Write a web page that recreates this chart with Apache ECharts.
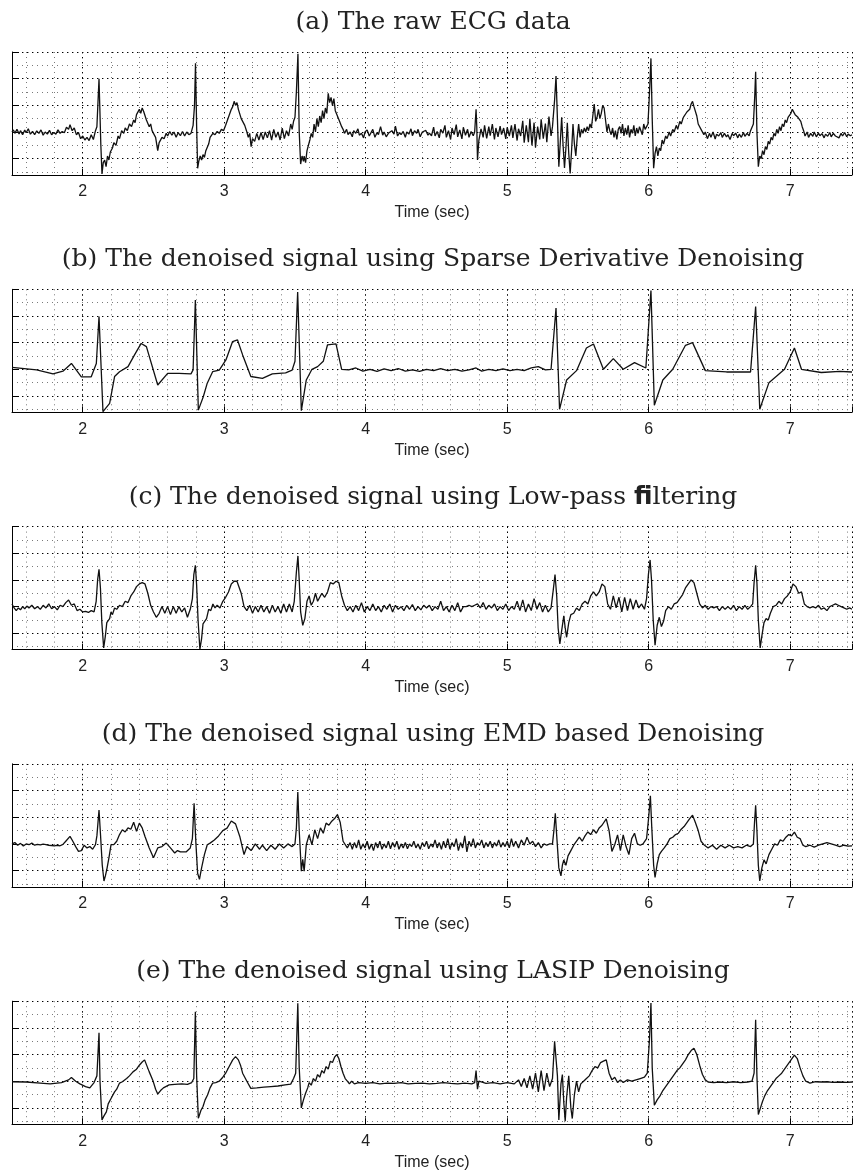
<!DOCTYPE html>
<html>
<head>
<meta charset="utf-8">
<script src="https://cdn.jsdelivr.net/npm/echarts@6/dist/echarts.min.js"></script>
<style>
  html, body { margin: 0; padding: 0; background: #fff; }
  #chart { width: 855px; height: 1174px; }
</style>
</head>
<body>
<div id="chart"></div>
<script>
// Time-axis labels shown under every panel
const timeTicks = [2, 3, 4, 5, 6, 7];

// Panel titles
const panelTitles = [
  '(a) The raw ECG data',
  '(b) The denoised signal using Sparse Derivative Denoising',
  '{s|(c) The denoised signal using Low-pass }{f|\uFB01}{s|ltering}',
  '(d) The denoised signal using EMD based Denoising',
  '(e) The denoised signal using LASIP Denoising'
];

// (a) raw ECG, [time (s), amplitude]
const ecgRaw = [
[1.50,1.00],[1.51,1.08],[1.52,0.95],[1.535,1.10],[1.55,0.93],[1.56,1.05],[1.575,0.90],[1.59,1.07],[1.60,0.97],[1.615,1.12],[1.63,0.92],[1.645,1.02],[1.66,0.90],[1.675,1.04],[1.69,0.95],[1.705,1.08],[1.72,0.88],[1.735,1.00],[1.75,0.92],[1.765,1.06],[1.78,0.90],[1.795,0.98],[1.81,0.92],[1.825,1.08],[1.84,0.95],[1.855,1.02],[1.87,0.97],[1.885,1.18],[1.90,1.10],[1.91,1.27],[1.925,1.05],[1.94,1.15],[1.955,0.90],[1.97,0.98],[1.985,0.75],[2.00,0.85],[2.015,0.70],[2.03,0.80],[2.045,0.68],[2.06,0.90],[2.075,0.72],[2.09,1.05],[2.10,1.20],[2.115,3.00],[2.128,0.50],[2.136,-0.57],
[2.145,-0.15],[2.155,-0.05],[2.165,-0.30],[2.175,0.10],[2.185,-0.05],[2.195,0.25],[2.21,0.40],[2.22,0.60],[2.235,0.50],[2.25,0.85],[2.26,0.75],[2.275,1.05],[2.29,0.95],[2.30,1.15],[2.315,1.05],[2.33,1.30],[2.345,1.20],[2.36,1.45],[2.37,1.35],[2.38,1.65],[2.39,1.60],[2.40,1.85],[2.41,1.70],[2.42,1.90],[2.43,1.78],[2.44,1.75],[2.45,1.45],[2.46,1.50],[2.47,1.20],[2.48,1.30],[2.49,1.05],[2.50,0.95],[2.515,0.80],[2.53,0.30],[2.54,0.60],[2.55,0.55],[2.56,0.80],[2.575,0.75],[2.59,0.95],[2.60,0.85],[2.615,1.02],[2.63,0.88],[2.645,1.00],[2.66,0.80],[2.675,0.98],[2.69,0.86],[2.705,1.02],[2.72,0.85],[2.735,1.00],[2.75,0.90],[2.765,0.95],[2.78,1.25],[2.79,2.00],[2.797,3.58],[2.805,1.20],[2.812,-0.36],
[2.82,-0.10],[2.83,0.10],[2.84,-0.05],[2.85,0.15],[2.86,0.05],[2.87,0.30],[2.88,0.25],[2.89,0.55],[2.90,0.80],[2.91,0.75],[2.92,0.95],[2.935,0.90],[2.95,1.02],[2.965,0.95],[2.98,1.10],[2.995,1.05],[3.01,1.25],[3.02,1.40],[3.03,1.55],[3.04,1.50],[3.05,1.85],[3.06,1.95],[3.07,2.15],[3.08,2.00],[3.09,2.10],[3.10,1.85],[3.11,1.80],[3.12,1.50],[3.13,1.55],[3.145,1.25],[3.16,1.00],[3.17,0.80],[3.18,0.95],[3.19,0.45],[3.20,0.75],[3.215,0.65],[3.23,0.95],[3.245,0.70],[3.26,0.98],[3.275,0.72],[3.29,1.00],[3.305,0.78],[3.32,1.05],[3.335,0.70],[3.35,1.10],[3.365,0.80],[3.38,1.00],[3.395,0.70],[3.41,1.15],[3.425,0.75],[3.44,1.05],[3.455,0.85],[3.47,1.30],[3.48,1.10],[3.49,1.40],[3.50,1.55],[3.51,2.50],[3.521,3.93],[3.53,1.00],[3.54,-0.20],
[3.55,0.10],[3.56,-0.10],[3.565,0.10],[3.575,-0.15],[3.585,0.30],[3.595,0.25],[3.605,0.70],[3.615,0.95],[3.625,0.80],[3.635,1.30],[3.645,1.00],[3.655,1.50],[3.665,1.20],[3.675,1.60],[3.685,1.35],[3.695,1.80],[3.705,1.50],[3.715,1.90],[3.725,1.70],[3.735,2.45],[3.745,2.10],[3.755,2.30],[3.765,2.00],[3.775,2.25],[3.785,1.80],[3.80,1.60],[3.815,1.40],[3.83,1.20],[3.84,1.10],
[3.85,0.95],[3.865,1.10],[3.875,0.90],[3.89,1.00],[3.905,0.82],[3.915,1.05],[3.93,0.95],[3.945,1.12],[3.955,0.88],[3.97,0.95],[3.985,0.78],[3.995,1.00],[4.01,1.08],[4.025,0.85],[4.035,0.92],[4.05,1.10],[4.065,0.80],[4.08,0.98],[4.09,0.90],[4.105,1.20],[4.12,0.88],[4.13,1.00],[4.145,0.82],[4.16,0.95],[4.17,0.88],[4.185,1.05],[4.20,0.92],[4.21,1.22],[4.225,0.85],[4.24,0.98],[4.25,0.90],[4.265,1.02],[4.28,0.80],[4.29,1.00],[4.305,0.92],[4.32,1.12],[4.33,0.86],[4.345,1.05],[4.36,0.95],[4.37,1.10],[4.385,0.82],[4.40,1.00],[4.41,0.93],[4.425,1.06],[4.44,0.88],[4.45,0.96],[4.465,0.86],[4.48,1.18],[4.49,0.85],[4.505,1.02],[4.52,0.78],[4.53,1.10],[4.545,0.96],[4.56,1.25],[4.57,0.80],[4.585,1.05],[4.60,0.72],[4.61,1.15],[4.625,0.90],[4.64,1.28],[4.65,0.82],[4.665,1.08],[4.68,0.74],[4.69,1.18],[4.705,0.88],[4.72,1.10],[4.73,0.80],[4.745,1.02],[4.76,0.86],[4.77,1.00],[4.78,1.85],[4.785,1.20],[4.79,-0.05],[4.80,0.70],[4.815,1.12],[4.83,0.80],[4.84,1.25],[4.855,0.76],[4.87,1.20],[4.88,0.86],[4.895,1.30],[4.91,0.72],[4.92,1.15],[4.935,0.82],[4.95,1.22],[4.96,0.90],[4.975,1.15],[4.99,0.74],[5.00,1.18],[5.015,0.85],[5.03,1.25],[5.04,0.78],[5.055,1.30],[5.07,0.68],[5.08,1.12],[5.095,0.85],[5.11,1.42],[5.12,0.60],[5.135,1.25],[5.15,0.62],[5.16,1.50],[5.175,0.50],[5.19,1.35],[5.20,0.42],[5.215,1.20],[5.23,0.72],[5.24,1.48],[5.255,0.75],[5.27,1.32],[5.28,0.62],[5.295,1.58],[5.31,0.85],[5.32,1.20],[5.335,2.20],[5.345,3.10],[5.355,1.50],[5.365,-0.30],[5.375,0.60],[5.385,1.55],[5.395,0.50],[5.405,-0.35],[5.415,0.40],[5.425,1.35],[5.435,0.20],[5.445,-0.55],[5.455,0.30],[5.465,1.30],[5.475,0.55],[5.485,0.10],[5.495,0.80],[5.505,1.30],[5.515,0.80],[5.525,1.10],[5.535,0.95],[5.545,1.15],[5.555,1.00],[5.565,1.20],[5.575,1.05],[5.585,1.30],[5.595,1.15],[5.605,1.60],[5.615,2.05],[5.625,1.40],[5.635,1.55],[5.645,1.85],[5.655,1.50],[5.665,1.70],[5.675,2.00],[5.685,1.90],[5.695,1.95],[5.705,1.00],[5.715,1.30],[5.725,1.05],[5.735,0.90],[5.745,1.15],[5.755,0.80],[5.765,1.05],[5.775,0.72],[5.785,1.10],[5.795,1.20],[5.805,0.95],[5.815,1.30],[5.825,0.85],[5.835,1.15],[5.845,0.90],[5.855,1.25],[5.865,0.80],[5.875,1.10],[5.885,0.95],[5.895,1.25],[5.905,0.85],[5.915,1.15],[5.925,0.95],[5.935,1.20],[5.945,1.05],[5.955,0.90],[5.965,1.30],[5.975,1.10],[5.985,1.20],[5.995,1.30],[6.005,2.40],[6.016,3.76],[6.025,1.50],[6.035,-0.36],
[6.045,0.20],[6.055,0.45],[6.065,0.10],[6.075,0.40],[6.085,0.30],[6.095,0.70],[6.105,0.55],[6.12,0.85],[6.13,0.75],[6.145,1.00],[6.155,0.85],[6.17,1.10],[6.18,1.00],[6.195,1.25],[6.205,1.10],[6.22,1.40],[6.23,1.30],[6.245,1.55],[6.255,1.50],[6.27,1.75],[6.28,1.70],[6.29,1.85],[6.30,2.05],[6.31,2.15],[6.32,1.95],[6.33,1.90],[6.34,1.60],[6.35,1.30],[6.36,1.35],[6.37,1.10],[6.38,1.15],[6.39,0.90],[6.40,1.00],[6.415,0.75],[6.43,0.95],[6.44,0.80],[6.455,1.00],[6.47,0.74],[6.48,0.92],[6.495,0.85],[6.51,0.98],[6.52,0.80],[6.535,0.95],[6.55,0.82],[6.56,0.90],[6.575,0.72],[6.59,0.95],[6.60,0.86],[6.615,0.96],[6.63,0.78],[6.64,0.92],[6.655,0.80],[6.67,0.98],[6.68,0.84],[6.695,0.95],[6.71,0.86],[6.72,1.05],[6.73,1.00],[6.74,1.30],[6.75,2.40],[6.756,3.26],[6.765,1.00],[6.775,-0.30],
[6.785,0.10],[6.795,0.00],[6.805,0.30],[6.815,0.15],[6.825,0.45],[6.835,0.35],[6.845,0.65],[6.855,0.55],[6.865,0.80],[6.875,0.70],[6.885,0.95],[6.895,0.85],[6.905,1.10],[6.915,0.95],[6.925,1.20],[6.935,1.05],[6.945,1.30],[6.955,1.20],[6.965,1.45],[6.975,1.35],[6.985,1.55],[6.995,1.50],[7.005,1.70],[7.015,1.85],[7.025,1.80],[7.035,1.65],[7.045,1.70],[7.055,1.55],[7.065,1.60],[7.075,1.40],[7.085,1.20],[7.095,1.05],[7.105,0.85],[7.12,1.00],[7.13,0.80],[7.145,0.95],[7.16,0.84],[7.17,1.00],[7.185,0.82],[7.20,0.96],[7.21,0.86],[7.225,0.94],[7.24,0.78],[7.25,0.92],[7.265,0.84],[7.28,0.98],[7.29,0.82],[7.305,0.95],[7.32,0.85],[7.33,0.92],[7.345,0.78],[7.36,0.95],[7.37,0.85],[7.385,0.98],[7.40,0.82],[7.41,0.92],[7.425,0.86],[7.437,0.90]
];

// (b) sparse-derivative denoised
const ecgSparse = [
[1.50,1.07],[1.674,0.98],[1.79,0.83],[1.86,0.93],[1.92,1.22],[1.99,0.72],[2.06,0.72],[2.096,1.22],[2.115,2.98],[2.143,-0.59],[2.19,-0.28],[2.225,0.73],[2.26,0.91],[2.32,1.10],[2.366,1.54],[2.413,1.97],[2.45,1.85],[2.53,0.41],[2.60,0.85],[2.68,0.85],[2.765,0.83],[2.78,0.98],[2.796,3.60],[2.817,-0.53],[2.852,-0.03],[2.88,0.48],[2.918,0.91],[2.965,0.97],[3.012,1.35],[3.059,2.04],[3.094,2.10],[3.13,1.54],[3.188,0.73],[3.27,0.66],[3.34,0.83],[3.434,0.87],[3.48,0.97],[3.50,1.30],[3.519,3.90],[3.545,-0.55],[3.58,0.60],[3.62,1.00],[3.66,1.10],[3.70,1.30],[3.73,1.92],[3.79,1.95],[3.83,1.00],[3.88,0.98],[3.93,1.05],[3.98,0.93],[4.03,1.00],[4.08,0.92],[4.13,1.02],[4.18,0.95],[4.23,1.03],[4.28,0.93],[4.33,0.98],[4.38,0.92],[4.43,1.00],[4.48,0.95],[4.53,1.03],[4.58,0.95],[4.63,1.00],[4.68,0.93],[4.73,0.98],[4.78,1.05],[4.82,0.93],[4.87,1.00],[4.92,0.95],[4.97,1.02],[5.02,0.95],[5.07,1.00],[5.12,0.95],[5.17,1.05],[5.22,1.10],[5.27,0.98],[5.31,1.00],[5.345,3.30],[5.37,-0.50],[5.42,0.60],[5.49,0.95],[5.56,1.80],[5.61,1.95],[5.68,1.00],[5.75,1.40],[5.82,1.00],[5.90,1.25],[5.98,1.05],[6.016,3.95],[6.04,-0.35],[6.10,0.60],[6.17,1.00],[6.26,1.90],[6.31,2.00],[6.40,0.95],[6.55,0.90],[6.72,0.90],[6.756,3.35],[6.785,-0.50],[6.85,0.50],[6.96,1.00],[7.03,1.80],[7.08,1.00],[7.22,0.88],[7.35,0.92],[7.437,0.90]
];

// (c) low-pass filtered
const ecgLowpass = [
[1.50,1.10],[1.515,0.95],[1.53,0.85],[1.545,0.95],[1.56,0.88],[1.575,1.00],[1.59,0.92],[1.605,1.02],[1.62,0.95],[1.64,1.05],[1.66,0.92],[1.68,1.00],[1.70,0.90],[1.72,1.05],[1.74,0.95],[1.76,1.10],[1.78,0.92],[1.80,1.00],[1.82,0.88],[1.84,1.05],[1.86,1.00],[1.88,1.15],[1.90,1.25],[1.92,1.05],[1.94,1.10],[1.96,0.85],[1.98,0.90],[2.00,0.80],[2.02,0.82],[2.04,0.78],[2.06,0.85],[2.08,0.80],[2.095,1.20],[2.105,2.00],[2.115,2.40],[2.125,1.70],[2.135,0.40],[2.148,-0.55],[2.16,-0.10],[2.17,0.40],[2.18,0.35],[2.19,0.55],[2.20,0.80],[2.21,0.70],[2.225,0.95],[2.24,0.90],[2.26,1.05],[2.28,1.00],[2.30,1.20],[2.32,1.15],[2.34,1.40],[2.36,1.55],[2.38,1.75],[2.40,1.85],[2.42,1.90],[2.44,1.85],[2.46,1.50],[2.48,1.05],[2.50,0.80],[2.52,0.60],[2.54,0.75],[2.56,1.00],[2.58,0.75],[2.60,1.00],[2.62,0.70],[2.64,1.00],[2.66,0.75],[2.68,1.00],[2.70,0.80],[2.72,0.95],[2.74,0.60],[2.76,0.90],[2.775,1.30],[2.785,2.20],[2.796,2.55],[2.805,1.80],[2.815,0.50],[2.828,-0.60],[2.84,-0.20],[2.85,0.35],[2.86,0.30],[2.875,0.55],[2.89,0.90],[2.905,0.85],[2.92,1.10],[2.935,0.95],[2.95,1.05],[2.97,0.95],[2.99,1.20],[3.01,1.35],[3.03,1.55],[3.05,1.85],[3.07,1.95],[3.09,1.95],[3.10,2.00],[3.12,1.50],[3.14,1.00],[3.16,0.85],[3.18,1.05],[3.20,0.75],[3.22,1.00],[3.24,0.80],[3.26,1.05],[3.28,0.80],[3.30,1.00],[3.32,0.75],[3.34,1.05],[3.36,0.80],[3.38,1.00],[3.40,0.75],[3.42,1.10],[3.44,0.80],[3.46,1.10],[3.48,0.80],[3.495,1.20],[3.51,2.30],[3.521,2.90],[3.53,2.00],[3.54,0.80],[3.555,0.30],[3.57,0.55],[3.585,1.20],[3.60,1.40],[3.615,1.05],[3.63,1.20],[3.645,1.50],[3.66,1.20],[3.675,1.35],[3.69,1.50],[3.71,1.35],[3.73,1.55],[3.75,1.90],[3.77,1.85],[3.79,1.95],[3.81,1.90],[3.83,1.40],[3.85,1.05],[3.87,0.85],[3.89,1.00],[3.91,0.80],[3.93,1.05],[3.95,0.85],[3.97,1.15],[3.99,0.80],[4.01,1.00],[4.03,0.85],[4.05,1.10],[4.07,0.85],[4.09,1.00],[4.11,0.80],[4.13,1.05],[4.15,0.90],[4.17,1.10],[4.19,0.80],[4.21,1.05],[4.23,0.90],[4.25,1.00],[4.27,0.85],[4.29,1.05],[4.31,0.90],[4.33,1.08],[4.35,0.85],[4.37,1.00],[4.39,0.88],[4.41,1.05],[4.43,0.95],[4.45,1.05],[4.47,0.85],[4.49,1.00],[4.51,0.90],[4.53,1.20],[4.55,0.85],[4.57,1.00],[4.59,0.80],[4.61,1.05],[4.63,0.85],[4.65,1.15],[4.67,0.80],[4.69,1.00],[4.71,1.00],[4.73,1.05],[4.75,1.00],[4.77,1.05],[4.79,1.10],[4.81,0.95],[4.83,1.15],[4.85,0.90],[4.87,1.05],[4.89,0.95],[4.91,1.10],[4.93,0.85],[4.95,1.00],[4.97,0.90],[4.99,1.10],[5.01,0.85],[5.03,1.00],[5.05,0.90],[5.07,1.20],[5.09,0.85],[5.11,1.25],[5.13,0.80],[5.15,1.10],[5.17,0.85],[5.19,1.30],[5.21,0.90],[5.23,1.15],[5.25,0.80],[5.27,1.05],[5.29,0.80],[5.31,0.95],[5.325,1.60],[5.338,2.20],[5.35,1.40],[5.36,0.20],[5.372,-0.40],[5.385,0.10],[5.40,0.65],[5.41,0.20],[5.42,-0.15],[5.435,0.40],[5.45,0.70],[5.47,0.75],[5.49,0.95],[5.51,0.85],[5.53,1.10],[5.55,1.20],[5.57,1.10],[5.59,1.40],[5.61,1.55],[5.63,1.40],[5.65,1.55],[5.67,1.85],[5.69,1.75],[5.71,1.10],[5.73,0.90],[5.75,1.40],[5.77,0.95],[5.79,1.35],[5.81,0.80],[5.83,1.35],[5.85,0.85],[5.87,1.30],[5.89,0.90],[5.91,1.25],[5.93,0.95],[5.95,1.10],[5.97,0.90],[5.985,1.30],[5.998,2.20],[6.01,2.75],[6.02,2.00],[6.032,0.50],[6.045,-0.45],[6.06,0.30],[6.075,0.60],[6.09,0.25],[6.105,0.45],[6.12,0.85],[6.14,1.00],[6.16,0.90],[6.18,1.10],[6.20,1.15],[6.22,1.30],[6.24,1.45],[6.26,1.70],[6.28,1.85],[6.30,2.00],[6.32,1.90],[6.34,1.50],[6.36,1.10],[6.38,0.95],[6.40,1.05],[6.42,0.90],[6.44,1.00],[6.46,0.95],[6.48,1.00],[6.50,0.85],[6.52,1.00],[6.54,0.90],[6.56,1.00],[6.58,0.90],[6.60,1.05],[6.62,0.85],[6.64,1.00],[6.66,0.90],[6.68,1.05],[6.70,0.90],[6.72,1.00],[6.735,1.10],[6.745,1.90],[6.756,2.55],[6.765,1.90],[6.775,0.50],[6.788,-0.55],[6.80,-0.10],[6.815,0.40],[6.83,0.55],[6.845,0.50],[6.86,0.75],[6.88,1.00],[6.90,1.05],[6.92,1.20],[6.94,1.10],[6.96,1.30],[6.98,1.40],[7.00,1.55],[7.02,1.85],[7.04,1.75],[7.06,1.50],[7.08,1.55],[7.10,1.10],[7.12,1.00],[7.14,0.95],[7.16,1.00],[7.18,0.95],[7.20,1.05],[7.22,0.90],[7.24,0.95],[7.26,0.85],[7.28,1.00],[7.30,1.05],[7.32,1.10],[7.34,1.05],[7.36,1.00],[7.38,0.95],[7.40,0.90],[7.42,0.95],[7.437,0.90]
];

// (d) EMD based denoising
const ecgEmd = [
[1.50,1.00],[1.52,1.05],[1.54,0.95],[1.56,1.02],[1.58,0.92],[1.60,1.00],[1.62,0.97],[1.64,1.03],[1.66,0.95],[1.68,0.98],[1.70,0.96],[1.72,0.99],[1.74,0.97],[1.76,0.95],[1.78,0.94],[1.80,0.93],[1.82,0.95],[1.84,0.93],[1.86,0.98],[1.88,1.10],[1.91,1.28],[1.93,1.10],[1.95,0.90],[1.97,0.72],[1.99,0.75],[2.01,0.95],[2.03,0.85],[2.05,0.90],[2.07,0.80],[2.09,0.97],[2.10,1.30],[2.115,2.27],[2.125,1.40],[2.138,0.20],[2.15,-0.39],[2.16,-0.20],[2.17,0.04],[2.185,0.48],[2.20,0.97],[2.22,0.97],[2.24,1.10],[2.26,1.35],[2.28,1.53],[2.30,1.45],[2.32,1.60],[2.34,1.55],[2.36,1.81],[2.38,1.47],[2.40,1.78],[2.42,1.60],[2.44,1.28],[2.47,0.85],[2.50,0.48],[2.53,0.85],[2.56,0.90],[2.59,1.03],[2.62,0.85],[2.65,0.66],[2.67,0.75],[2.69,0.70],[2.73,0.70],[2.76,0.85],[2.775,1.20],[2.787,2.52],[2.80,1.00],[2.812,-0.10],[2.825,-0.33],[2.84,0.10],[2.86,0.60],[2.88,0.97],[2.90,1.03],[2.93,1.15],[2.96,1.30],[2.99,1.50],[3.02,1.59],[3.05,1.86],[3.08,1.75],[3.11,1.28],[3.14,0.60],[3.16,0.90],[3.19,0.75],[3.22,1.00],[3.25,0.80],[3.27,0.95],[3.30,0.75],[3.33,0.95],[3.36,0.80],[3.39,1.00],[3.42,0.85],[3.45,1.00],[3.48,0.90],[3.50,1.00],[3.51,1.60],[3.52,2.95],[3.53,1.50],[3.545,-0.02],[3.555,0.42],[3.565,-0.02],[3.58,0.97],[3.60,1.34],[3.62,0.97],[3.64,1.53],[3.66,1.20],[3.68,1.60],[3.70,1.40],[3.72,1.78],[3.74,1.70],[3.76,1.85],[3.78,1.95],[3.80,2.10],[3.82,1.80],[3.84,1.10],[3.87,0.85],[3.89,1.05],[3.905,0.80],[3.92,1.05],[3.935,0.85],[3.95,1.15],[3.965,0.80],[3.98,1.00],[3.995,0.85],[4.01,1.10],[4.025,0.80],[4.04,1.00],[4.055,0.75],[4.07,1.05],[4.085,0.85],[4.10,1.10],[4.115,0.80],[4.13,1.00],[4.145,0.85],[4.16,1.10],[4.175,0.82],[4.19,1.05],[4.205,0.88],[4.22,1.10],[4.235,0.80],[4.25,1.00],[4.265,0.85],[4.28,1.05],[4.295,0.82],[4.31,1.00],[4.325,0.90],[4.34,1.10],[4.355,0.85],[4.37,1.00],[4.385,0.80],[4.40,1.05],[4.415,0.90],[4.43,1.10],[4.445,0.82],[4.46,1.00],[4.475,0.88],[4.49,1.15],[4.505,0.85],[4.52,1.05],[4.535,0.80],[4.55,1.10],[4.565,0.85],[4.58,1.20],[4.595,0.80],[4.61,1.05],[4.625,0.90],[4.64,1.20],[4.655,0.75],[4.67,1.05],[4.685,0.85],[4.70,1.30],[4.715,0.70],[4.73,1.10],[4.745,0.90],[4.76,1.20],[4.775,0.85],[4.79,1.05],[4.805,0.95],[4.82,1.15],[4.835,0.85],[4.85,1.05],[4.865,0.90],[4.88,1.10],[4.895,0.85],[4.91,1.05],[4.925,0.92],[4.94,1.15],[4.955,0.88],[4.97,1.05],[4.985,0.90],[5.00,1.10],[5.015,0.85],[5.03,1.20],[5.045,0.90],[5.06,1.10],[5.08,0.85],[5.10,1.15],[5.12,0.95],[5.14,1.25],[5.16,1.00],[5.18,1.10],[5.20,0.90],[5.22,1.05],[5.24,0.85],[5.26,1.00],[5.28,0.95],[5.30,1.00],[5.32,1.00],[5.33,1.50],[5.34,2.15],[5.35,1.30],[5.365,0.10],[5.38,-0.20],[5.39,0.20],[5.40,0.40],[5.415,0.20],[5.43,0.55],[5.45,0.75],[5.47,0.95],[5.49,1.10],[5.51,1.25],[5.53,1.10],[5.55,1.30],[5.57,1.45],[5.59,1.35],[5.61,1.53],[5.63,1.40],[5.65,1.60],[5.67,1.70],[5.70,1.94],[5.72,1.50],[5.74,0.72],[5.76,0.97],[5.78,1.34],[5.80,0.75],[5.82,1.34],[5.84,0.90],[5.86,0.60],[5.88,1.20],[5.90,1.40],[5.92,1.00],[5.94,0.95],[5.96,1.00],[5.985,1.20],[6.00,2.00],[6.012,2.80],[6.022,1.60],[6.035,0.20],[6.045,-0.26],[6.06,0.25],[6.075,0.60],[6.09,0.72],[6.11,0.85],[6.13,1.00],[6.15,1.20],[6.17,1.25],[6.19,1.35],[6.21,1.40],[6.23,1.55],[6.25,1.65],[6.27,1.80],[6.29,1.95],[6.31,2.08],[6.33,1.80],[6.35,1.50],[6.37,1.10],[6.39,0.97],[6.42,0.85],[6.45,0.95],[6.48,0.80],[6.51,0.95],[6.54,0.85],[6.57,0.95],[6.60,0.85],[6.63,0.90],[6.66,0.85],[6.69,0.95],[6.72,0.90],[6.74,1.00],[6.748,1.80],[6.756,2.45],[6.765,1.50],[6.775,0.20],[6.785,-0.39],[6.80,0.10],[6.815,0.40],[6.83,0.25],[6.85,0.60],[6.87,0.80],[6.89,1.00],[6.91,0.95],[6.93,1.15],[6.95,1.10],[6.97,1.25],[6.99,1.35],[7.01,1.30],[7.03,1.44],[7.05,1.25],[7.07,1.20],[7.09,0.95],[7.11,0.90],[7.14,0.95],[7.17,0.88],[7.20,0.95],[7.23,1.00],[7.26,1.05],[7.29,1.00],[7.32,0.95],[7.35,0.90],[7.38,0.95],[7.41,0.92],[7.437,0.93]
];

// (e) LASIP denoising
const ecgLasip = [
[1.50,0.98],[1.60,0.97],[1.70,0.93],[1.77,0.90],[1.85,0.95],[1.90,1.05],[1.92,1.14],[1.95,1.00],[1.98,0.90],[2.02,0.80],[2.05,0.75],[2.08,0.95],[2.10,1.20],[2.115,2.82],[2.122,1.00],[2.136,-0.45],[2.15,-0.30],[2.167,-0.15],[2.18,0.15],[2.20,0.35],[2.225,0.60],[2.24,0.70],[2.26,0.93],[2.28,0.98],[2.31,1.10],[2.33,1.20],[2.355,1.35],[2.38,1.45],[2.40,1.60],[2.42,1.72],[2.437,1.80],[2.45,1.75],[2.47,1.35],[2.495,1.04],[2.515,0.70],[2.53,0.52],[2.55,0.65],[2.57,0.75],[2.61,0.86],[2.65,0.88],[2.70,0.90],[2.74,0.88],[2.77,0.95],[2.785,1.10],[2.796,3.60],[2.805,1.20],[2.817,-0.39],[2.835,-0.10],[2.85,0.05],[2.865,0.30],[2.882,0.48],[2.90,0.75],[2.918,0.93],[2.94,0.95],[2.965,1.00],[2.99,1.15],[3.01,1.30],[3.035,1.55],[3.06,1.80],[3.08,1.92],[3.10,1.80],[3.115,1.60],[3.13,1.30],[3.16,1.00],[3.188,0.73],[3.23,0.75],[3.28,0.78],[3.33,0.80],[3.38,0.82],[3.43,0.86],[3.47,0.89],[3.49,1.10],[3.505,1.30],[3.52,3.92],[3.53,1.50],[3.545,0.00],
[3.56,0.30],[3.575,0.55],[3.59,0.75],[3.60,0.95],[3.615,0.85],[3.63,1.10],[3.645,1.00],[3.66,1.25],[3.675,1.15],[3.69,1.40],[3.705,1.30],[3.72,1.55],[3.735,1.45],[3.75,1.75],[3.765,1.70],[3.78,1.90],[3.795,2.00],[3.81,1.85],[3.825,1.55],[3.84,1.30],[3.855,1.10],[3.87,1.00],[3.885,0.90],[3.90,1.00],[3.92,0.90],[3.95,0.95],[4.00,0.92],[4.05,0.95],[4.10,0.90],[4.15,0.93],[4.20,0.92],[4.25,0.95],[4.30,0.90],[4.35,0.92],[4.40,0.93],[4.45,0.90],[4.50,0.92],[4.55,0.95],[4.60,0.92],[4.65,0.90],[4.70,0.93],[4.75,0.90],[4.77,0.95],[4.78,1.40],[4.79,0.70],[4.80,1.00],[4.85,0.92],[4.90,0.95],[4.95,0.90],[5.00,0.95],[5.05,0.90],[5.08,1.05],[5.10,0.80],[5.12,1.10],[5.14,0.75],[5.16,1.20],[5.18,0.70],[5.20,1.30],[5.22,0.60],[5.24,1.40],[5.26,0.65],[5.28,1.30],[5.30,0.80],[5.32,1.10],[5.335,2.50],[5.345,2.55],[5.355,1.20],[5.365,-0.45],[5.38,0.90],[5.39,1.25],[5.40,0.20],[5.41,-0.50],[5.42,0.40],[5.435,1.20],[5.45,0.00],[5.46,-0.40],[5.475,0.50],[5.49,1.00],[5.505,0.60],[5.52,0.90],[5.54,1.00],[5.56,1.10],[5.58,1.20],[5.60,1.40],[5.62,1.55],[5.64,1.50],[5.66,1.70],[5.68,1.75],[5.70,1.80],[5.72,1.30],[5.74,1.05],[5.76,1.15],[5.78,0.95],[5.80,1.05],[5.82,0.95],[5.85,1.05],[5.88,1.00],[5.91,1.05],[5.94,1.10],[5.97,1.15],[5.99,1.30],[6.005,2.50],[6.016,3.93],[6.025,1.50],[6.04,0.10],[6.06,0.30],[6.08,0.45],[6.10,0.65],[6.12,0.80],[6.14,0.95],[6.16,1.10],[6.18,1.25],[6.20,1.40],[6.22,1.50],[6.24,1.65],[6.26,1.80],[6.28,2.00],[6.30,2.15],[6.32,2.24],[6.34,2.00],[6.36,1.60],[6.38,1.25],[6.40,1.05],[6.42,0.97],[6.46,0.95],[6.50,0.97],[6.55,0.95],[6.60,0.98],[6.65,0.95],[6.70,0.97],[6.73,1.00],[6.745,1.30],[6.756,3.30],[6.765,1.20],[6.775,-0.25],[6.79,0.00],[6.805,0.25],[6.82,0.45],[6.84,0.65],[6.86,0.80],[6.88,0.95],[6.90,1.10],[6.92,1.20],[6.94,1.30],[6.96,1.45],[6.98,1.60],[7.00,1.75],[7.03,1.98],[7.05,1.85],[7.07,1.50],[7.09,1.20],[7.11,1.00],[7.14,0.93],[7.18,0.98],[7.22,0.97],[7.26,0.98],[7.30,0.96],[7.35,0.97],[7.40,0.96],[7.437,0.97]
];

const panelSeries = [ecgRaw, ecgSparse, ecgLowpass, ecgEmd, ecgLasip];

// ---- layout ----
const X_MIN = 1.5, X_MAX = 7.437;
const Y_MIN = -0.612, Y_MAX = 4;
const PLOT_LEFT = 12, PLOT_WIDTH = 843, PLOT_HEIGHT = 123;
const plotTops = [52, 289.3, 526.6, 763.9, 1001.2];

const SANS = 'Liberation Sans, Arial, Helvetica, sans-serif';
const SERIF = 'DejaVu Serif, serif';
const TITLE_SIZE = 25;

const grids = [], xAxes = [], yAxes = [], series = [], titles = [];

plotTops.forEach((top, i) => {
  grids.push({ left: PLOT_LEFT, top: top, width: PLOT_WIDTH, height: PLOT_HEIGHT, containLabel: false });

  // major time axis: ticks, labels, solid baseline and dotted grid
  xAxes.push({
    gridIndex: i, type: 'value', min: X_MIN, max: X_MAX, splitNumber: 5, position: 'bottom', z: 3,
    axisLine: { show: true, onZero: false, lineStyle: { color: '#000', width: 1 } },
    axisTick: { show: true, inside: true, length: 6, lineStyle: { color: '#000', width: 1 } },
    axisLabel: {
      show: true, margin: 9, fontFamily: SANS, fontSize: 16, color: '#222',
      formatter: v => (timeTicks.indexOf(v) >= 0 ? String(v) : '')
    },
    splitLine: { show: true, lineStyle: { color: '#000', width: 1, type: [1.4, 3.6] } },
    name: 'Time (sec)', nameLocation: 'middle', nameGap: 30,
    nameTextStyle: { fontFamily: SANS, fontSize: 16, color: '#222' }
  });
  // finer 0.2 s grid
  xAxes.push({
    gridIndex: i, type: 'value', min: X_MIN, max: X_MAX, splitNumber: 30, position: 'bottom', z: 1,
    axisLine: { show: false }, axisTick: { show: false }, axisLabel: { show: false },
    splitLine: { show: true, lineStyle: { color: '#7a7a7a', width: 1, type: [1, 4] } }
  });

  yAxes.push({
    gridIndex: i, type: 'value', min: Y_MIN, max: Y_MAX, splitNumber: 5, position: 'left', z: 3,
    axisLine: { show: true, onZero: false, lineStyle: { color: '#000', width: 1 } },
    axisTick: { show: true, inside: true, length: 7, lineStyle: { color: '#000', width: 1 } },
    axisLabel: { show: false },
    splitLine: { show: true, lineStyle: { color: '#000', width: 1, type: [1.4, 3.6] } }
  });
  yAxes.push({
    gridIndex: i, type: 'value', min: Y_MIN, max: Y_MAX, splitNumber: 10, position: 'right', z: 1,
    axisLine: { show: false }, axisTick: { show: false }, axisLabel: { show: false },
    splitLine: { show: true, lineStyle: { color: '#7a7a7a', width: 1, type: [1, 4] } }
  });

  series.push({
    type: 'line', xAxisIndex: 2 * i, yAxisIndex: 2 * i,
    data: panelSeries[i], showSymbol: false, symbol: 'none', silent: true, z: 5,
    lineStyle: { color: '#111', width: 1.3 }
  });

  titles.push({
    text: panelTitles[i], left: 433, top: top - 42, padding: 0, textAlign: 'center',
    textStyle: {
      fontFamily: SERIF, fontSize: TITLE_SIZE, fontWeight: 'normal', color: '#222',
      rich: {
        s: { fontFamily: SERIF, fontSize: TITLE_SIZE, color: '#222' },
        f: { fontFamily: 'DejaVu Sans, sans-serif', fontSize: TITLE_SIZE, fontWeight: 'bold', color: '#222' }
      }
    }
  });
});

const chart = echarts.init(document.getElementById('chart'), null, { renderer: 'canvas' });
chart.setOption({
  animation: false,
  backgroundColor: '#fff',
  title: titles,
  grid: grids,
  xAxis: xAxes,
  yAxis: yAxes,
  series: series
});
</script>
</body>
</html>
